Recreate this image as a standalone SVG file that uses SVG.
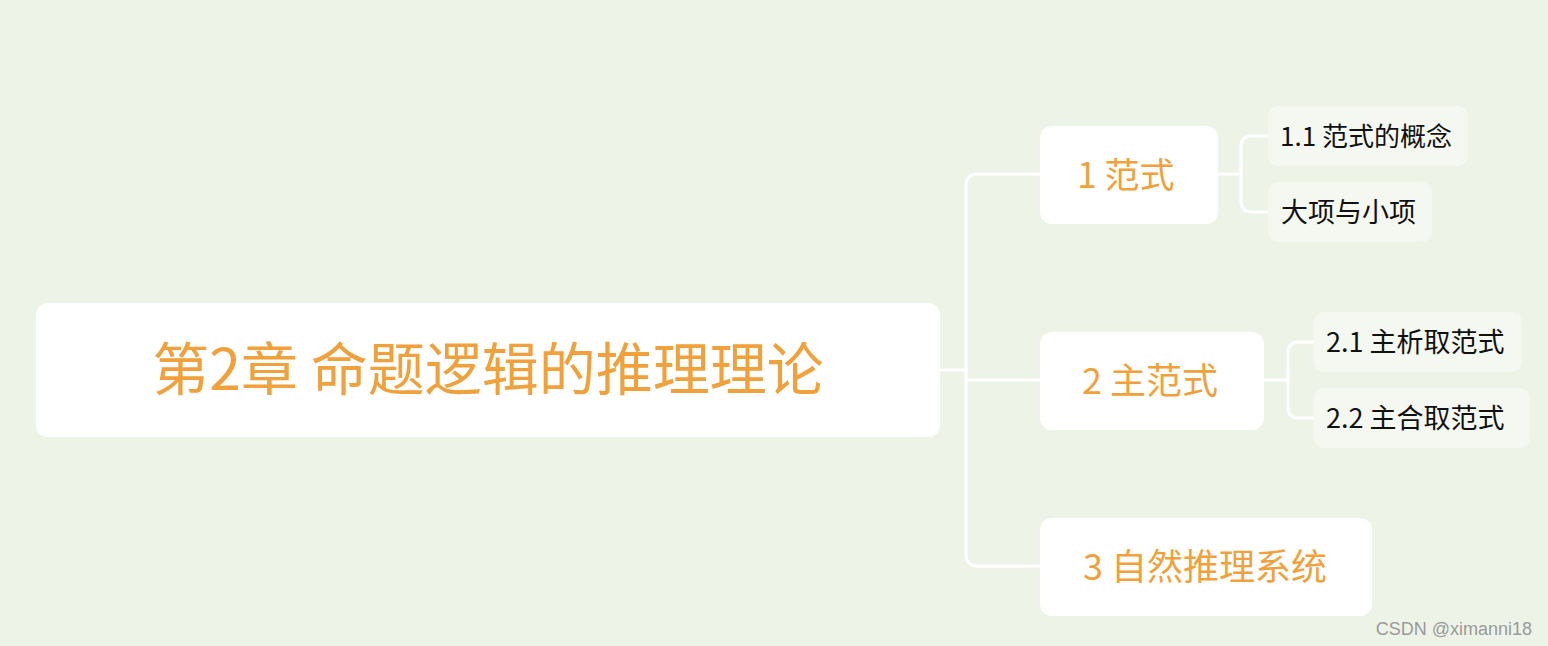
<svg xmlns="http://www.w3.org/2000/svg" width="1548" height="646" viewBox="0 0 1548 646">
<style>
.main{fill:#ffffff}
.leaf{fill:#f5f8f0}
.t{font-family:"Noto Sans CJK SC","Noto Sans",sans-serif;dominant-baseline:central}
.m{text-anchor:middle}
.o{fill:#f0a13c}
.k{fill:#111111}
.c{fill:none;stroke:#ffffff;stroke-width:3}
</style>
<rect width="1548" height="646" fill="#eef3e7"/>
<g id="connectors">
<path class="c" d="M940 370 H966"/>
<path class="c" d="M1040 174 H978 Q966 174 966 186 V554 Q966 566 978 566 H1040"/>
<path class="c" d="M966 380 H1040"/>
<path class="c" d="M1218 174 H1241"/>
<path class="c" d="M1268 136 H1252 Q1241 136 1241 147 V201 Q1241 212 1252 212 H1268"/>
<path class="c" d="M1264 380 H1288"/>
<path class="c" d="M1314 342 H1299 Q1288 342 1288 353 V407 Q1288 418 1299 418 H1314"/>
</g>
<g id="root">
<rect class="main" x="36" y="303" width="904" height="134" rx="12"/>
<text class="t m o" x="488" y="365" font-size="57">第2章 命题逻辑的推理理论</text>
</g>
<g id="n1">
<rect class="main" x="1040" y="126" width="178" height="98" rx="12"/>
<text class="t m o" x="1126" y="172" font-size="35">1 范式</text>
</g>
<g id="n2">
<rect class="main" x="1040" y="332" width="224" height="98" rx="12"/>
<text class="t m o" x="1150" y="378" font-size="36">2 主范式</text>
</g>
<g id="n3">
<rect class="main" x="1040" y="518" width="332" height="98" rx="12"/>
<text class="t m o" x="1205" y="564" font-size="36">3 自然推理系统</text>
</g>
<g id="n11">
<rect class="leaf" x="1268" y="106" width="200" height="60" rx="10"/>
<text class="t k" x="1280" y="134" font-size="26">1.1 范式的概念</text>
</g>
<g id="n12">
<rect class="leaf" x="1268" y="182" width="164" height="60" rx="10"/>
<text class="t k" x="1281" y="210" font-size="27">大项与小项</text>
</g>
<g id="n21">
<rect class="leaf" x="1314" y="312" width="208" height="60" rx="10"/>
<text class="t k" x="1326" y="340" font-size="27">2.1 主析取范式</text>
</g>
<g id="n22">
<rect class="leaf" x="1314" y="388" width="216" height="60" rx="10"/>
<text class="t k" x="1326" y="416" font-size="27">2.2 主合取范式</text>
</g>
<text x="1532" y="635" font-family="Liberation Sans, sans-serif" font-size="18" fill="#9a9a9a" text-anchor="end">CSDN @ximanni18</text>
</svg>
